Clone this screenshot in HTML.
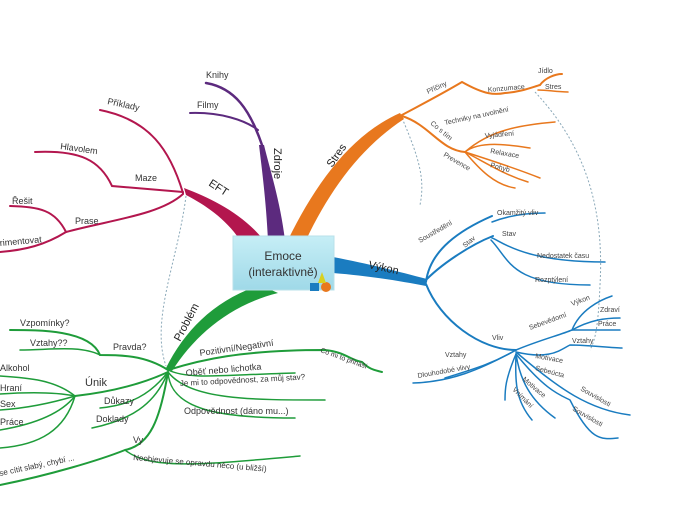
<!DOCTYPE html>
<html><head><meta charset="utf-8"><style>
html,body{margin:0;padding:0;background:#fff;}
svg{display:block;font-family:"Liberation Sans",sans-serif;}
</style></head><body>
<svg width="700" height="525" viewBox="0 0 700 525" xmlns="http://www.w3.org/2000/svg">
<defs>
<linearGradient id="bx" x1="0" y1="0" x2="0" y2="1"><stop offset="0" stop-color="#c6eef6"/><stop offset="1" stop-color="#9fd9e8"/></linearGradient>
</defs>
<g fill="none" stroke="#8aa8b8" stroke-width="1" stroke-dasharray="2,2">
<path d="M186,196 C178,260 150,320 166,366"/>
<path d="M402,118 C420,160 425,180 420,205"/>
<path d="M535,92 C580,140 605,200 600,285 C598,330 595,340 590,350"/>
</g>
<path d="M268,240 C266,200 262,170 259,145 L264,145 C270,170 280,200 285,240Z" fill="#5c2a7e"/>
<g fill="none" stroke="#5c2a7e" stroke-linecap="round">
<path d="M262,145 C250,110 235,88 206,83" stroke-width="2.5"/>
<path d="M258,130 C245,120 220,112 190,113" stroke-width="2"/>
</g>
<path d="M262,238 C240,212 210,198 184,188 L186,195 C205,205 225,218 240,240Z" fill="#b3164e"/>
<g fill="none" stroke="#b3164e" stroke-linecap="round">
<path d="M183,193 C170,150 150,120 100,110" stroke-width="2"/>
<path d="M183,192 L112,186 C100,160 80,150 35,152" stroke-width="2"/>
<path d="M183,194 C160,215 110,220 66,232" stroke-width="2"/>
<path d="M66,232 C55,210 40,207 10,206" stroke-width="2"/>
<path d="M66,232 C45,245 25,250 0,252" stroke-width="2"/>
</g>
<path d="M288,240 C315,185 350,135 400,113 L404,119 C360,148 330,190 306,240Z" fill="#e8781e"/>
<g fill="none" stroke="#e8781e" stroke-linecap="round">
<path d="M400,116 C430,100 440,95 462,82 C485,95 495,95 505,93 C520,92 530,88 540,85 C545,78 555,74 562,74" stroke-width="2"/>
<path d="M538,90 C548,90 556,92 568,92" stroke-width="1.5"/>
<path d="M402,116 C430,125 440,150 465,152" stroke-width="2"/>
<path d="M465,152 C490,130 520,125 555,122" stroke-width="1.5"/>
<path d="M465,152 C480,140 510,145 530,148" stroke-width="1.5"/>
<path d="M465,152 C490,160 520,170 540,178" stroke-width="1.5"/>
<path d="M465,152 C490,165 505,175 528,182" stroke-width="1.5"/>
<path d="M465,152 C480,170 495,185 515,188" stroke-width="1.5"/>
</g>
<path d="M333,257 C370,264 400,272 427,279 L426,286 C400,281 370,276 333,273Z" fill="#1a7cc0"/>
<g fill="none" stroke="#1a7cc0" stroke-linecap="round">
<path d="M426,282 C430,250 460,230 492,216" stroke-width="2"/>
<path d="M424,282 C440,265 470,245 493,236" stroke-width="2"/>
<path d="M492,222 C510,215 530,213 545,213" stroke-width="1.5"/>
<path d="M492,238 C500,240 520,262 605,262" stroke-width="1.5"/>
<path d="M491,240 C510,260 510,285 590,285" stroke-width="1.5"/>
<path d="M426,284 C440,320 480,350 516,350" stroke-width="2"/>
<path d="M516,350 C490,365 470,370 445,378" stroke-width="1.5"/>
<path d="M516,350 C480,370 450,382 413,383" stroke-width="1.5"/>
<path d="M516,350 C540,340 560,335 572,330 C580,310 600,300 612,296" stroke-width="1.5"/>
<path d="M572,330 C590,320 605,318 620,318" stroke-width="1.5"/>
<path d="M572,330 C590,330 610,330 620,330" stroke-width="1.5"/>
<path d="M516,352 C550,360 560,350 570,345 C590,345 610,348 622,348" stroke-width="1.5"/>
<path d="M516,352 C560,390 590,410 630,415" stroke-width="1.5"/>
<path d="M516,354 C545,390 560,395 570,400 C590,440 600,440 618,438" stroke-width="1.5"/>
<path d="M516,354 C520,380 530,400 555,418" stroke-width="1.5"/>
<path d="M516,354 C515,380 515,400 532,420" stroke-width="1.5"/>
<path d="M516,354 C505,380 505,390 505,400" stroke-width="1.5"/>
</g>
<path d="M260,285 C215,300 185,330 166,368 L172,371 C195,335 230,305 278,293Z" fill="#1f9c3a"/>
<g fill="none" stroke="#1f9c3a" stroke-linecap="round">
<path d="M168,370 C145,355 120,355 100,355 C90,330 40,330 10,330" stroke-width="2"/>
<path d="M100,355 C80,345 50,350 20,350" stroke-width="1.5"/>
<path d="M168,372 C140,385 110,392 75,396" stroke-width="2"/>
<path d="M75,396 C55,380 30,378 0,376" stroke-width="1.5"/>
<path d="M75,396 C55,392 30,392 0,394" stroke-width="1.5"/>
<path d="M75,396 C55,402 30,408 0,410" stroke-width="1.5"/>
<path d="M75,396 C60,415 30,425 0,430" stroke-width="1.5"/>
<path d="M75,396 C65,430 40,445 0,448" stroke-width="1.5"/>
<path d="M168,372 C150,395 130,405 100,408" stroke-width="1.5"/>
<path d="M168,372 C155,405 130,420 92,428" stroke-width="1.5"/>
<path d="M168,372 C160,420 150,445 125,450 C100,460 50,475 0,485" stroke-width="2"/>
<path d="M125,450 C150,470 200,465 300,456" stroke-width="1.5"/>
<path d="M168,370 C200,360 240,350 325,350 C345,352 350,360 362,362 C370,370 375,370 382,372" stroke-width="2"/>
<path d="M168,370 C190,380 220,375 295,373" stroke-width="1.5"/>
<path d="M168,372 C190,400 250,400 325,400" stroke-width="1.5"/>
<path d="M168,372 C170,410 220,418 295,418" stroke-width="1.5"/>
</g>
<rect x="233" y="236" width="101" height="54" fill="url(#bx)" stroke="#b8e0ea"/>
<text x="283" y="260" font-size="12" text-anchor="middle" fill="#333">Emoce</text>
<text x="283" y="276" font-size="12" text-anchor="middle" fill="#333">(interaktivně)</text>
<rect x="310" y="283" width="9" height="8" fill="#1a7cc0"/><circle cx="326" cy="287" r="5" fill="#e8781e"/><path d="M318,283 L322,272 L326,283Z" fill="#d8d020"/>
<g font-size="11" fill="#222">
<text transform="translate(274,148) rotate(90)">Zdroje</text>
<text transform="translate(208,185) rotate(33)">EFT</text>
<text transform="translate(332,168) rotate(-55)">Stres</text>
<text transform="translate(368,268) rotate(12)">Výkon</text>
<text transform="translate(180,342) rotate(-62)">Problém</text>
</g>
<g font-size="9" fill="#333">
<text x="206" y="78">Knihy</text>
<text x="197" y="108">Filmy</text>
<text x="107" y="104" transform="rotate(12,107,104)">Příklady</text>
<text x="60" y="149" transform="rotate(8,60,149)">Hlavolem</text>
<text x="135" y="181">Maze</text>
<text x="75" y="224">Prase</text>
<text x="12" y="204">Řešit</text>
<text x="0" y="246" transform="rotate(-5,0,246)">rimentovat</text>
<text x="20" y="326">Vzpomínky?</text>
<text x="30" y="346">Vztahy??</text>
<text x="113" y="350">Pravda?</text>
<text x="85" y="386" font-size="11">Únik</text>
<text x="0" y="371">Alkohol</text>
<text x="0" y="391">Hraní</text>
<text x="0" y="407">Sex</text>
<text x="0" y="425">Práce</text>
<text x="104" y="404">Důkazy</text>
<text x="96" y="422">Doklady</text>
<text x="133" y="443">Vy</text>
<text x="0" y="476" font-size="8" transform="rotate(-12,0,476)">se cítit slabý, chybí ...</text>
<text x="133" y="460" font-size="8" transform="rotate(5,133,460)">Neobjevuje se opravdu něco (u bližší)</text>
<text x="200" y="356" transform="rotate(-8,200,356)">Pozitivní/Negativní</text>
<text x="186" y="376" transform="rotate(-5,186,376)">Oběť nebo lichotka</text>
<text x="180" y="386" font-size="8" transform="rotate(-3,180,386)">Je mi to odpovědnost, za můj stav?</text>
<text x="184" y="414" font-size="9">Odpovědnost (dáno mu...)</text>
<text x="320" y="352" font-size="7" transform="rotate(20,320,352)">Co mi to přináší</text>
</g>
<g font-size="7" fill="#444">
<text x="428" y="94" transform="rotate(-25,428,94)">Příčiny</text>
<text x="488" y="92" transform="rotate(-5,488,92)">Konzumace</text>
<text x="538" y="73">Jídlo</text>
<text x="545" y="89">Stres</text>
<text x="430" y="124" transform="rotate(40,430,124)">Co s tím</text>
<text x="445" y="125" transform="rotate(-12,445,125)">Techniky na uvolnění</text>
<text x="485" y="138" transform="rotate(-5,485,138)">Vyjádření</text>
<text x="490" y="153" transform="rotate(10,490,153)">Relaxace</text>
<text x="490" y="167" transform="rotate(15,490,167)">Pohyb</text>
<text x="443" y="156" transform="rotate(30,443,156)">Prevence</text>
<text x="420" y="243" transform="rotate(-30,420,243)">Soustředění</text>
<text x="465" y="248" transform="rotate(-40,465,248)">Stav</text>
<text x="497" y="215">Okamžitý vliv</text>
<text x="502" y="236">Stav</text>
<text x="537" y="258">Nedostatek času</text>
<text x="535" y="282">Rozptýlení</text>
<text x="492" y="340">Vliv</text>
<text x="445" y="357">Vztahy</text>
<text x="418" y="378" transform="rotate(-10,418,378)">Dlouhodobé vlivy</text>
<text x="530" y="330" transform="rotate(-20,530,330)">Sebevědomí</text>
<text x="572" y="306" transform="rotate(-20,572,306)">Výkon</text>
<text x="600" y="312">Zdraví</text>
<text x="598" y="326">Práce</text>
<text x="572" y="343">Vztahy</text>
<text x="535" y="358" transform="rotate(10,535,358)">Motivace</text>
<text x="535" y="370" transform="rotate(15,535,370)">Sebeúcta</text>
<text x="580" y="390" transform="rotate(30,580,390)">Souvislosti</text>
<text x="572" y="410" transform="rotate(30,572,410)">Souvislosti</text>
<text x="522" y="380" transform="rotate(40,522,380)">Motivace</text>
<text x="512" y="390" transform="rotate(45,512,390)">Vnímání</text>
</g>
</svg>
</body></html>
